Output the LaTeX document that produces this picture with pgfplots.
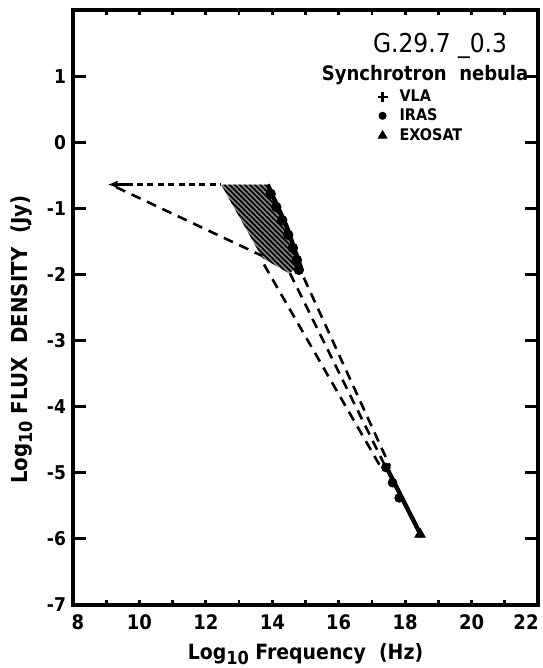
\documentclass[border=0pt]{standalone}
\usepackage{fontspec}
\setmainfont{DejaVu Sans Condensed}
\usepackage{graphicx}
\usepackage{pgfplots}
\pgfplotsset{compat=1.18}
\usetikzlibrary{patterns.meta,arrows.meta}
\begin{document}
\begin{tikzpicture}
\pgfplotsset{base/.style={
  width=232.5pt,height=297.5pt,scale only axis,
  xmin=8,xmax=22,ymin=-7,ymax=2,
  axis line style={line width=1.6pt},
  tick align=inside,
}}
% y ticks (long) in a second axis
\begin{axis}[base,
  xtick=\empty,
  ytick={-7,-6,...,1},
  yticklabels={-7,-6,-5,-4,-3,-2,-1,0,1},
  major tick length=6.5pt,
  ytick style={line width=1.4pt,black},
  yticklabel style={font=\fontsize{9.5}{11}\selectfont\bfseries},
  ylabel={Log\raisebox{-0.35ex}{\fontsize{9}{10}\selectfont 10} FLUX\ \ DENSITY\ \ (Jy)},
  ylabel style={at={(axis description cs:-0.110,0.446)},anchor=center,font=\fontsize{11}{13}\selectfont\bfseries},
]
\end{axis}
\begin{axis}[base,
  xtick={8,10,...,22},
  xticklabels={\hspace*{5pt}8,10,12,14,16,18,20,\hspace*{-12pt}22},
  minor xtick={9,11,...,21},
  major tick length=2.6pt, minor tick length=2.6pt,
  ytick=\empty,
  xtick style={line width=1.4pt,black},
  xticklabel style={font=\fontsize{10}{12}\selectfont\bfseries,yshift=-1.5pt},
  xlabel={Log\raisebox{-0.45ex}{\fontsize{9}{10}\selectfont 10} Frequency\ \ (Hz)},
  xlabel style={at={(axis description cs:0.5,0)},anchor=base,yshift=-27pt,font=\fontsize{10.5}{12}\selectfont\bfseries},
]
\coordinate (SW) at (rel axis cs:0,0);
\coordinate (NE) at (rel axis cs:1,1);
% hatched region
\addplot[draw=none, fill=black!45] coordinates {(12.46,-0.64)(13.86,-0.64)(14.43,-1.27)(14.85,-1.88)(14.5,-1.98)(13.7,-1.75)} -- cycle;
\addplot[draw=none, pattern={Lines[angle=-45,distance=1.8pt,line width=0.9pt]}] coordinates {(12.46,-0.64)(13.86,-0.64)(14.43,-1.27)(14.85,-1.88)(14.5,-1.98)(13.7,-1.75)} -- cycle;
\addplot[black, line width=2.2pt] coordinates {(13.86,-0.64)(14.43,-1.27)(14.85,-1.88)};
\addplot[only marks, mark=*, mark size=2.4pt, black] coordinates {(13.95,-0.78)(14.12,-0.98)(14.3,-1.18)(14.48,-1.40)(14.62,-1.60)(14.74,-1.78)(14.8,-1.93)};
% dashed lines
\addplot[black, line width=1.3pt, dash pattern=on 3pt off 2.2pt] coordinates {(9.3,-0.64)(12.46,-0.64)};
\addplot[black, line width=1.5pt, -{Latex[length=5pt,width=4pt]}] coordinates {(9.7,-0.64)(9.04,-0.64)};
\addplot[black, line width=1.3pt, dash pattern=on 5pt off 3.5pt] coordinates {(9.3,-0.68)(13.70,-1.72)};
\addplot[black, line width=1.3pt, dash pattern=on 5pt off 3.5pt] coordinates {(13.75,-1.85)(17.33,-4.97)};
\addplot[black, line width=1.3pt, dash pattern=on 5pt off 3.5pt] coordinates {(14.53,-1.98)(17.38,-4.88)};
\addplot[black, line width=1.3pt, dash pattern=on 5pt off 3.5pt] coordinates {(14.95,-2.05)(17.54,-4.90)};
% EXOSAT segment
\addplot[black, line width=2.2pt] coordinates {(17.4,-4.88)(18.5,-5.97)};
\addplot[only marks, mark=*, mark size=2.2pt, black] coordinates {(17.42,-4.92)(17.62,-5.15)(17.82,-5.38)};
\addplot[only marks, mark=triangle*, mark size=3pt, black] coordinates {(18.45,-5.93)};
% legend symbols
\addplot[only marks, mark=+, mark size=2.5pt, line width=1.2pt, black] coordinates {(17.32,0.68)};
\addplot[only marks, mark=*, mark size=1.8pt, black] coordinates {(17.32,0.40)};
\addplot[only marks, mark=triangle*, mark size=2.5pt, black] coordinates {(17.32,0.10)};
\node[font=\fontsize{13}{15}\selectfont] at (axis cs:19.05,1.46) {G.29.7 \_0.3};
\node[font=\fontsize{10}{12}\selectfont\bfseries] at (axis cs:18.6,1.02) {Synchrotron\ \ nebula};
\node[anchor=west,font=\fontsize{8}{9}\selectfont\bfseries] at (axis cs:17.62,0.70) {VLA};
\node[anchor=west,font=\fontsize{8}{9}\selectfont\bfseries] at (axis cs:17.62,0.42) {IRAS};
\node[anchor=west,font=\fontsize{8}{9}\selectfont\bfseries] at (axis cs:17.62,0.12) {EXOSAT};
\end{axis}
\pgfresetboundingbox
\path[use as bounding box] ([xshift=-36.5pt,yshift=-31.5pt]SW) rectangle ([xshift=2pt,yshift=5pt]NE);
\end{tikzpicture}
\end{document}
